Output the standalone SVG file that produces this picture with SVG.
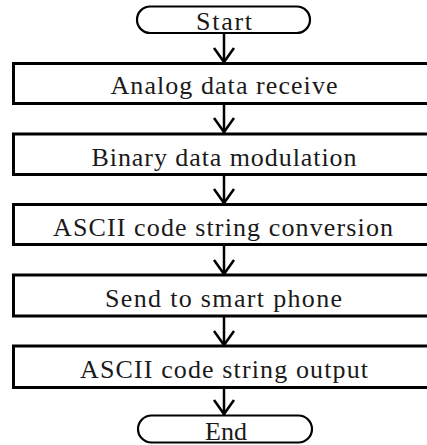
<svg xmlns="http://www.w3.org/2000/svg" width="427" height="445" viewBox="0 0 427 445">
<defs>
<style>
.bg{fill:#fff}
.term{fill:#fff;stroke:#000;stroke-width:2.2}
.box{fill:#fff;stroke:#000;stroke-width:3}
.lbl{font-family:"Liberation Serif","Times New Roman",serif;font-size:26px;fill:#1a1a1a;text-anchor:middle}
.edge{fill:none;stroke:#000;stroke-width:2.5}
.head{fill:none;stroke:#000;stroke-width:2.5;stroke-linejoin:miter}
</style>
</defs>
<rect class="bg" x="0" y="0" width="427" height="445"/>
<g id="connectors">
<path class="edge" d="M224,33 V63"/>
<path class="head" d="M214,48 L224,62 L234,48"/>
<path class="edge" d="M224,104 V133"/>
<path class="head" d="M214,118 L224,132 L234,118"/>
<path class="edge" d="M224,175 V203"/>
<path class="head" d="M214,189 L224,203 L234,189"/>
<path class="edge" d="M224,245 V274"/>
<path class="head" d="M214,260 L224,274 L234,260"/>
<path class="edge" d="M224,316 V345"/>
<path class="head" d="M214,331 L224,345 L234,331"/>
<path class="edge" d="M224,387 V415"/>
<path class="head" d="M214,400 L224,414 L234,400"/>
</g>
<g id="start">
<rect class="term" x="137" y="6.5" width="173" height="26.5" rx="13.2"/>
<text class="lbl" x="224" y="30" textLength="56" lengthAdjust="spacing">Start</text>
</g>
<g id="analog">
<rect class="box" x="13.5" y="63.5" width="424" height="40"/>
<text class="lbl" x="224" y="94" textLength="227" lengthAdjust="spacing">Analog data receive</text>
</g>
<g id="binary">
<rect class="box" x="13.5" y="134" width="424" height="40.5"/>
<text class="lbl" x="224" y="165.5" textLength="265" lengthAdjust="spacing">Binary data modulation</text>
</g>
<g id="ascii-conv">
<rect class="box" x="13.5" y="204.5" width="424" height="40"/>
<text class="lbl" x="223" y="235.5" textLength="340" lengthAdjust="spacing">ASCII code string conversion</text>
</g>
<g id="send">
<rect class="box" x="13.5" y="275" width="424" height="41"/>
<text class="lbl" x="223.5" y="306.5" textLength="237" lengthAdjust="spacing">Send to smart phone</text>
</g>
<g id="ascii-out">
<rect class="box" x="13.5" y="346" width="424" height="41.5"/>
<text class="lbl" x="224" y="377.5" textLength="288" lengthAdjust="spacing">ASCII code string output</text>
</g>
<g id="end">
<rect class="term" x="138" y="415.5" width="174" height="27" rx="13.5"/>
<text class="lbl" x="226" y="439.5" textLength="42" lengthAdjust="spacing">End</text>
</g>
</svg>
